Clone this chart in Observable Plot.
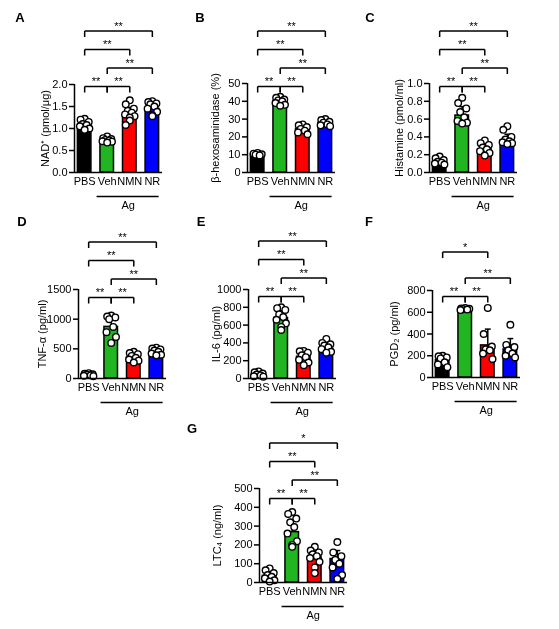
<!DOCTYPE html>
<html>
<head>
<meta charset="utf-8">
<script src="https://cdn.jsdelivr.net/npm/d3@7"></script>
<script src="https://cdn.jsdelivr.net/npm/@observablehq/plot@0.6"></script>
<style>
  body { margin: 0; background: #fff; font-family: Arial, "Liberation Sans", sans-serif; }
  #fig { position: relative; width: 559px; height: 629px; overflow: hidden; }
  .panel { position: absolute; will-change: transform; }
  .letter { position: absolute; font-weight: bold; font-size: 13px; transform: translate(-50%, -50%); }
</style>
</head>
<body>
<div id="fig"></div>
<script>
const groups = ["PBS", "Veh", "NMN", "NR"];
const barColors = ["#000000", "#22b522", "#ff0000", "#0000ff"];

// A - NAD+
const nadMean = [1.05, 0.72, 1.30, 1.45];
const nadSd = [0.12, 0.07, 0.18, 0.13];
const nadPts = [
  [1.22, 1.20, 1.15, 1.10, 1.05, 1.00, 0.97, 1.08],
  [0.82, 0.78, 0.76, 0.73, 0.71, 0.70, 0.68, 0.74],
  [1.64, 1.55, 1.45, 1.40, 1.36, 1.32, 1.28, 1.25, 1.18, 1.08],
  [1.62, 1.60, 1.57, 1.55, 1.50, 1.45, 1.38, 1.30, 1.28]
];

// B - beta-hexosaminidase
const hexMean = [10.2, 40.0, 24.5, 27.8];
const hexSd = [0.8, 2.0, 2.0, 1.5];
const hexPts = [
  [11.0, 10.6, 10.2, 9.6, 10.0],
  [42.5, 42.0, 41.0, 40.5, 40.0, 39.0, 38.0, 37.5],
  [27.0, 26.5, 25.5, 24.5, 23.5, 22.5, 21.5],
  [30.0, 29.5, 28.5, 28.0, 27.0, 26.5, 26.0]
];

// C - histamine
const hisMean = [0.12, 0.64, 0.26, 0.36];
const hisSd = [0.03, 0.10, 0.06, 0.07];
const hisPts = [
  [0.18, 0.16, 0.14, 0.12, 0.11, 0.10, 0.09],
  [0.84, 0.78, 0.72, 0.68, 0.62, 0.58, 0.56, 0.55],
  [0.36, 0.33, 0.31, 0.28, 0.26, 0.24, 0.22, 0.19],
  [0.52, 0.48, 0.40, 0.37, 0.35, 0.33, 0.32, 0.34]
];

// D - TNF-alpha
const tnfMean = [60, 870, 355, 445];
const tnfSd = [15, 170, 60, 45];
const tnfPts = [
  [90, 80, 72, 65, 55, 45, 40],
  [1060, 1045, 1030, 1000, 870, 780, 700, 600],
  [450, 430, 410, 380, 350, 320, 300, 270],
  [520, 505, 490, 470, 450, 420, 400, 390]
];

// E - IL-6
const il6Mean = [48, 680, 245, 335];
const il6Sd = [20, 80, 60, 50];
const il6Pts = [
  [80, 70, 55, 45, 35, 25, 20],
  [800, 790, 770, 720, 690, 660, 620, 580, 545],
  [310, 305, 290, 260, 240, 210, 180, 150],
  [445, 400, 385, 370, 350, 330, 300, 290]
];

// F - PGD2
const pgdMean = [160, 630, 295, 258];
const pgdSd = [35, 8, 150, 100];
const pgdPts = [
  [200, 195, 185, 175, 140, 120, 95],
  [640, 635, 632, 628, 625, 620],
  [640, 400, 285, 260, 250, 220, 170],
  [485, 300, 280, 250, 220, 200, 185]
];

// G - LTC4
const ltcMean = [35, 268, 135, 125];
const ltcSd = [25, 65, 45, 45];
const ltcPts = [
  [75, 65, 50, 40, 30, 22, 12, 5],
  [375, 365, 340, 320, 295, 260, 220, 200, 190],
  [190, 170, 160, 150, 140, 130, 110, 80, 50],
  [215, 160, 140, 120, 100, 80, 40, 20]
];

// significance brackets: [from, to, level, label]
const sigFull = [[0, 1, 0, "**"], [1, 2, 0, "**"], [1, 3, 1, "**"], [0, 2, 2, "**"], [0, 3, 3, "**"]];
const sigF = [[0, 1, 0, "**"], [1, 2, 0, "**"], [1, 3, 1, "**"], [0, 2, 2.4, "*"]];
const sigG = [[0, 1, 0, "**"], [1, 2, 0, "**"], [1, 3, 1, "**"], [0, 2, 2, "**"], [0, 3, 3, "*"]];

const f1 = d3.format(".1f");
const f0 = d3.format("d");

const panels = [
  {letter: "A", lx: 20, ly: 17, axisX: 74, yTop: 84, plotH: 88, base: 2, labelOffset: 33,
   label: "NAD\u207A (pmol/\u03BCg)", ymax: 2, ticks: [0, 0.5, 1, 1.5, 2], fmt: f1,
   means: nadMean, sds: nadSd, pts: nadPts, sig: sigFull},
  {letter: "B", lx: 200, ly: 17, axisX: 247, yTop: 83, plotH: 89, base: 3, labelOffset: 36,
   label: "\u03B2-hexosaminidase (%)", ymax: 50, ticks: [0, 10, 20, 30, 40, 50], fmt: f0,
   means: hexMean, sds: hexSd, pts: hexPts, sig: sigFull},
  {letter: "C", lx: 370, ly: 17, axisX: 429, yTop: 83, plotH: 89, base: 3, labelOffset: 34,
   label: "Histamine (pmol/ml)", ymax: 1, ticks: [0, 0.2, 0.4, 0.6, 0.8, 1], fmt: f1,
   means: hisMean, sds: hisSd, pts: hisPts, sig: sigFull},
  {letter: "D", lx: 22, ly: 221, axisX: 78, yTop: 289, plotH: 89, base: 8, labelOffset: 40,
   label: "TNF-\u03B1 (pg/ml)", ymax: 1500, ticks: [0, 500, 1000, 1500], fmt: f0,
   means: tnfMean, sds: tnfSd, pts: tnfPts, sig: sigFull},
  {letter: "E", lx: 201, ly: 221, axisX: 248, yTop: 289, plotH: 89, base: 7, labelOffset: 36,
   label: "IL-6 (pg/ml)", ymax: 1000, ticks: [0, 200, 400, 600, 800, 1000], fmt: f0,
   means: il6Mean, sds: il6Sd, pts: il6Pts, sig: sigFull},
  {letter: "F", lx: 369, ly: 221, axisX: 432, yTop: 290, plotH: 87, base: 6, labelOffset: 42,
   label: "PGD\u2082 (pg/ml)", ymax: 800, ticks: [0, 200, 400, 600, 800], fmt: f0,
   means: pgdMean, sds: pgdSd, pts: pgdPts, sig: sigF},
  {letter: "G", lx: 192, ly: 428, axisX: 259, yTop: 488, plotH: 94, base: 10, labelOffset: 46,
   label: "LTC\u2084 (ng/ml)", ymax: 500, ticks: [0, 100, 200, 300, 400, 500], fmt: f0,
   means: ltcMean, sds: ltcSd, pts: ltcPts, sig: sigG}
];

const fig = d3.select("#fig");
const mL = 62, mR = 8, mT = 70, mB = 45, plotW = 88;
const jitter = [0, -0.18, 0.18, -0.09, 0.09, -0.21, 0.21, 0];

panels.forEach(p => {
  const px = p.ymax / p.plotH; // data units per pixel
  const rows = groups.map((g, i) => ({i, mean: p.means[i], sd: p.sds[i], color: barColors[i]}));
  const dots = p.pts.flatMap((vals, i) =>
    [...vals].sort((a, b) => b - a).map((v, j) => ({x: i + jitter[j % jitter.length], v})));

  const segs = [], stars = [];
  p.sig.forEach(([a, b, lev, txt]) => {
    const v = p.ymax + (lev * 18.5 - p.base) * px;
    const leg = v - 6 * px;
    segs.push({x1: a, x2: b, y1: v, y2: v}, {x1: a, x2: a, y1: v, y2: leg}, {x1: b, x2: b, y1: v, y2: leg});
    stars.push({x: (a + b) / 2, y: v, txt});
  });

  const chart = Plot.plot({
    width: mL + plotW + mR,
    height: mT + p.plotH + mB,
    marginLeft: mL, marginRight: mR, marginTop: mT, marginBottom: mB,
    x: {domain: [-0.45, 3.45]},
    y: {domain: [0, p.ymax]},
    style: {fontFamily: "Arial, 'Liberation Sans', sans-serif", fontSize: "11px", color: "black", background: "transparent", overflow: "visible"},
    marks: [
      Plot.rect(rows, {x1: d => d.i - 0.3, x2: d => d.i + 0.3, y1: 0, y2: "mean", fill: "color", stroke: "black", strokeWidth: 1.5}),
      Plot.link(rows, {x1: "i", x2: "i", y1: "mean", y2: d => d.mean + d.sd, stroke: "black", strokeWidth: 1.5}),
      Plot.link(rows, {x1: d => d.i - 0.13, x2: d => d.i + 0.13, y1: d => d.mean + d.sd, y2: d => d.mean + d.sd, stroke: "black", strokeWidth: 1.5}),
      Plot.dot(dots, {x: "x", y: "v", r: 3.3, fill: "white", stroke: "black", strokeWidth: 1.4}),
      Plot.ruleY([0], {strokeWidth: 1.5}),
      Plot.ruleX([-0.45], {strokeWidth: 1.5}),
      Plot.axisY({ticks: p.ticks, tickFormat: p.fmt, tickSize: 5, tickPadding: 2, strokeWidth: 1.5,
        label: p.label, labelAnchor: "center", labelArrow: "none", labelOffset: p.labelOffset}),
      Plot.axisX({ticks: [0, 1, 2, 3], tickFormat: i => groups[i], tickSize: 0, tickPadding: 5, label: null}),
      Plot.link(segs, {x1: "x1", x2: "x2", y1: "y1", y2: "y2", stroke: "black", strokeWidth: 1.5}),
      Plot.text(stars, {x: "x", y: "y", text: "txt", dy: -5, fontSize: 11, fill: "black"}),
      Plot.ruleY([-24 * px], {x1: 0.55, x2: 3.3, strokeWidth: 1.3}),
      Plot.text(["Ag"], {x: 1.93, y: -33 * px, text: d => d, fontSize: 11, fill: "black"})
    ]
  });

  fig.append("div").attr("class", "panel")
    .style("left", (p.axisX - mL) + "px")
    .style("top", (p.yTop - mT) + "px")
    .append(() => chart);

  fig.append("div").attr("class", "letter")
    .style("left", p.lx + "px").style("top", p.ly + "px")
    .text(p.letter);
});
</script>
</body>
</html>
